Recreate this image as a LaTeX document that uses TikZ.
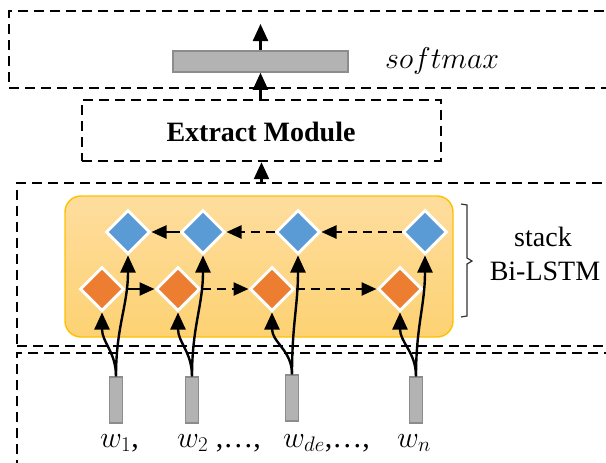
\RequirePackage{fix-cm}
\documentclass[tikz,border=0pt]{standalone}
\usepackage[no-math]{fontspec}
\setmainfont{Liberation Serif}
\usetikzlibrary{arrows.meta,shapes.geometric}

\definecolor{cellblue}{HTML}{5B9BD5}
\definecolor{cellorange}{HTML}{ED7D31}
\definecolor{paneledge}{HTML}{FFC000}
\definecolor{paneltop}{HTML}{FEDD9E}
\definecolor{panelbot}{HTML}{FDD273}
\definecolor{vecfill}{HTML}{B3B3B3}
\definecolor{vecedge}{HTML}{8C8C8C}

\begin{document}
\begin{tikzpicture}[x=1pt,y=-1pt,
  dbox/.style={draw=black, line width=2.4pt, dash pattern=on 10pt off 6pt,
               rectangle, inner sep=0pt},
  vec/.style={draw=vecedge, fill=vecfill, line width=1.5pt, rectangle, inner sep=0pt},
  cell/.style={diamond, draw=white, line width=3pt, inner sep=0pt,
               minimum width=44pt, minimum height=44pt},
  fwd/.style={cell, fill=cellorange},
  bwd/.style={cell, fill=cellblue},
  arr/.style={line width=2.4pt, -{Triangle[length=17pt,width=15pt]}},
  harr/.style={line width=2.4pt, -{Triangle[length=15pt,width=13pt]}},
  darr/.style={harr, dash pattern=on 9pt off 6pt},
  lbl/.style={font=\fontsize{28}{32}\selectfont},
  wlbl/.style={anchor=base west, font=\fontsize{30}{34}\selectfont, inner sep=0pt}]

\useasboundingbox (0,0) rectangle (606,463);
\clip (0,0) rectangle (606,463);

% layer boxes (the outer ones run past the right and bottom edges)
\node[dbox, minimum width=611pt, minimum height=77pt] (outbox) at (314.5,49.5) {};
\node[dbox, minimum width=359pt, minimum height=61pt] (extract) at (261.5,130.5) {};
\node[lbl, font=\fontsize{28}{32}\selectfont\bfseries, anchor=base] (extxt) at (261,141) {Extract Module};
\node[dbox, minimum width=603pt, minimum height=163pt] (lstmbox) at (318.5,264.5) {};
\node[dbox, minimum width=603pt, minimum height=127pt] (inbox) at (318.5,416.5) {};

% softmax output layer
\node[vec, minimum width=175pt, minimum height=21pt] (soft) at (260.5,61.5) {};
\coordinate (outtip) at (260.5,24);
\node[anchor=base west, font=\fontsize{30}{34}\selectfont, inner sep=0pt] (smx) at (385,68) {$softmax$};

\draw[arr] (soft.north) -- (outtip);
\draw[arr] (extract.north -| soft.south) -- (soft.south);
\draw[arr] (lstmbox.north -| extract.south) -- (extract.south);

% stacked Bi-LSTM panel
\node[rectangle, rounded corners=16pt, draw=paneledge, line width=1.4pt,
      top color=paneltop, bottom color=panelbot,
      minimum width=388pt, minimum height=141pt] (panel) at (259,266.5) {};

\node[bwd] (b1) at (128,232) {};
\node[bwd] (b2) at (203,232) {};
\node[bwd] (b3) at (298,232) {};
\node[bwd] (b4) at (425,232) {};
\node[fwd] (f1) at (102,289) {};
\node[fwd] (f2) at (178,289) {};
\node[fwd] (f3) at (272,289) {};
\node[fwd] (f4) at (400,289) {};

% recurrent connections
\draw[darr] (b4.west) -- (b3.east);
\draw[darr] (b3.west) -- (b2.east);
\draw[harr] (b2.west) -- (b1.east);
\draw[harr] (f1.east) -- (f2.west);
\draw[darr] (f2.east) -- (f3.west);
\draw[darr] (f3.east) -- (f4.west);

% word vectors
\node[vec, minimum width=13pt, minimum height=46pt] (v1) at (116,400) {};
\node[vec, minimum width=13pt, minimum height=46pt] (v2) at (192,400) {};
\node[vec, minimum width=13pt, minimum height=46pt] (v3) at (292,398) {};
\node[vec, minimum width=13pt, minimum height=46pt] (v4) at (416,400) {};

% inputs feeding both directions
\foreach \v/\f/\b in {v1/f1/b1, v2/f2/b2, v3/f3/b3, v4/f4/b4}{
  \draw[arr] (\v.north) .. controls +(0,-24) and +(0,30) .. (\f.south);
  \draw[arr] (\v.north) .. controls +(0,-50) and +(0,50) .. (\b.south);
}

\node[wlbl] (w1) at (100,447) {$w_1$,};
\node[wlbl] (w2) at (177,447) {$w_2$ ,\ldots,};
\node[wlbl] (w3) at (283,447) {$w_{de}$,\ldots,};
\node[wlbl] (w4) at (397,447) {$w_n$};

% brace and caption of the stacked layers
\draw[line width=1.2pt, color=black!80] (461,204) -- (467,205) -- (467,258) -- (472,261)
  -- (467,264) -- (467,316) -- (461,317);
\node[lbl] (stk) at (543,237) {stack};
\node[lbl] (bil) at (545,271) {Bi-LSTM};
\end{tikzpicture}
\end{document}
